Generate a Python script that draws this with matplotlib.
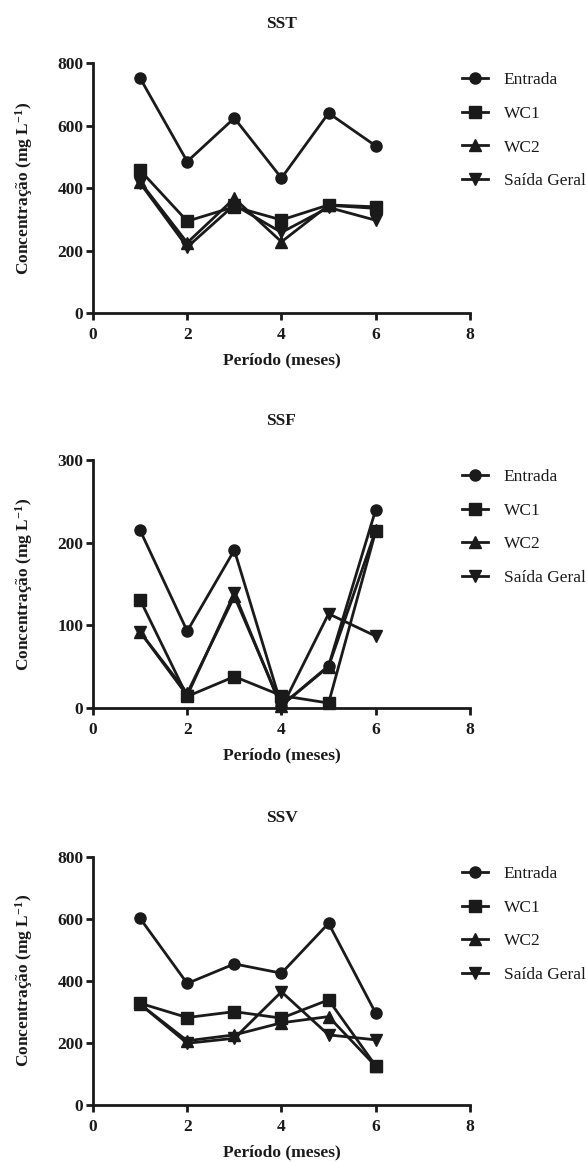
import numpy as np
import matplotlib
matplotlib.use('Agg')
import matplotlib.pyplot as plt

plt.rcParams['font.family'] = ['Liberation Serif', 'DejaVu Serif']
plt.rcParams['mathtext.fontset'] = 'custom'
plt.rcParams['mathtext.rm'] = 'Liberation Serif'
plt.rcParams['mathtext.bf'] = 'Liberation Serif:bold'
plt.rcParams['mathtext.default'] = 'bf'

meses = [1, 2, 3, 4, 5, 6]
series_names = ['Entrada', 'WC1', 'WC2', 'Saída Geral']
markers = ['o', 's', '^', 'v']

# SST
sst_entrada = [752, 485, 624, 432, 640, 535]
sst_wc1 = [457, 294, 340, 298, 346, 340]
sst_wc2 = [420, 225, 367, 228, 345, 335]
sst_saida = [416, 211, 346, 258, 338, 297]

# SSF
ssf_entrada = [215, 93, 191, 3, 51, 240]
ssf_wc1 = [131, 14, 38, 15, 6, 214]
ssf_wc2 = [92, 18, 135, 3, 50, 215]
ssf_saida = [92, 15, 139, 0, 114, 87]

# SSV
ssv_entrada = [602, 392, 455, 425, 586, 296]
ssv_wc1 = [328, 282, 301, 280, 339, 126]
ssv_wc2 = [325, 207, 226, 265, 285, 125]
ssv_saida = [325, 199, 215, 365, 226, 210]

panels = [
    ('SST', [sst_entrada, sst_wc1, sst_wc2, sst_saida], [0, 200, 400, 600, 800]),
    ('SSF', [ssf_entrada, ssf_wc1, ssf_wc2, ssf_saida], [0, 100, 200, 300]),
    ('SSV', [ssv_entrada, ssv_wc1, ssv_wc2, ssv_saida], [0, 200, 400, 600, 800]),
]

fig = plt.figure(figsize=(5.87, 11.62), dpi=100)
bottoms = [0.7306, 0.3907, 0.0491]
heights = [0.2151, 0.2134, 0.2134]
fs = 12.5
ink = '#1a1a1a'

for (title, data, yticks), b, h in zip(panels, bottoms, heights):
    ax = fig.add_axes([0.1584, b, 0.6422, h])
    for vals, name, m in zip(data, series_names, markers):
        ax.plot(meses, vals, color=ink, lw=2.0, marker=m, ms=8,
                label=name, clip_on=False)
    ax.set_xlim(0, 8)
    ax.set_ylim(0, yticks[-1])
    ax.set_xticks([0, 2, 4, 6, 8])
    ax.set_yticks(yticks)
    for s in ['top', 'right']:
        ax.spines[s].set_visible(False)
    for s in ['left', 'bottom']:
        ax.spines[s].set_linewidth(2.0)
        ax.spines[s].set_color(ink)
    ax.tick_params(width=2.0, length=5, color=ink, labelsize=fs, labelcolor=ink)
    ax.tick_params(axis='y', pad=2)
    ax.tick_params(axis='x', pad=5)
    for lab in ax.get_xticklabels() + ax.get_yticklabels():
        lab.set_fontweight('bold')
    ax.set_title(title, fontsize=fs, fontweight='bold', pad=25, color=ink)
    ax.set_xlabel('Período (meses)', fontsize=fs, fontweight='bold',
                  labelpad=7, color=ink)
    ax.set_ylabel('Concentração (mg L$^{-1}$)', fontsize=fs, fontweight='bold',
                  labelpad=16, color=ink)
    ax.legend(loc='upper left', bbox_to_anchor=(0.979, 0.963), frameon=False,
              borderaxespad=0, borderpad=0, fontsize=fs, handlelength=1.5,
              handletextpad=0.9, labelspacing=1.0, labelcolor=ink)

fig.savefig('out.png', dpi=100)
